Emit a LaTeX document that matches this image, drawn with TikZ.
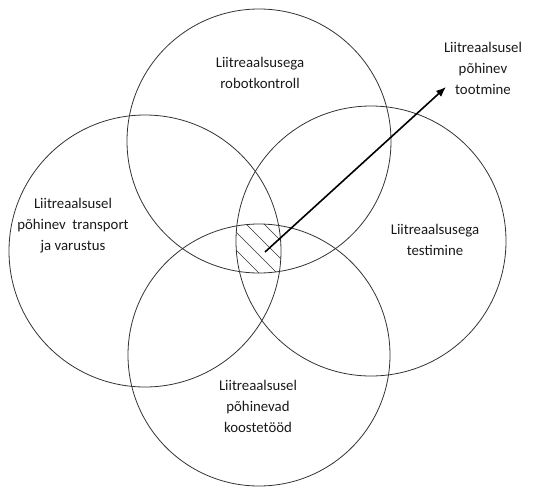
\documentclass[tikz,border=0pt]{standalone}
\usepackage{fontspec}
\setmainfont{Carlito}
\usetikzlibrary{arrows.meta}
\begin{document}
\begin{tikzpicture}[x=1pt,y=-1pt,
    ring/.style={draw=black!80, line width=0.8pt},
    hatch/.style={draw=black!80, line width=0.6pt},
    pointer/.style={-{Latex[length=10pt,width=8pt]}, line width=1.6pt},
    venntext/.style={align=center, inner sep=0pt, text=black!90,
      font=\fontsize{14.8}{21}\selectfont}]
  \useasboundingbox (0,0) rectangle (547,488);
  % Circles
  \draw[ring] (259,141) circle (132pt);
  \draw[ring] (259,355) circle (131pt);
  \draw[ring] (145,251) circle (136pt);
  \draw[ring] (371,241) circle (135pt);
  % Hatched middle
  \begin{scope}
    \clip (259,141) circle (132pt);
    \clip (259,355) circle (131pt);
    \clip (145,251) circle (136pt);
    \clip (371,241) circle (135pt);
    \foreach \c in {-32,-14,4,22,40}
      \draw[hatch] (\c+180,180) -- (\c+320,320);
  \end{scope}
  % Labels
  \node[venntext] (robot) at (260,73) {Liitreaalsusega\\robotkontroll};
  \node[venntext] (transport) at (73,226) {Liitreaalsusel\\põhinev\ \ transport\\ja varustus};
  \node[venntext] (testing) at (435,240) {Liitreaalsusega\\testimine};
  \node[venntext] (assembly) at (258,406) {Liitreaalsusel\\põhinevad\\koostetööd};
  \node[venntext] (production) at (483,68) {Liitreaalsusel\\põhinev\\tootmine};
  % Arrow
  \coordinate (hub) at (265,252);
  \coordinate (tip) at (446,87);
  \draw[pointer] (hub) -- (tip);
\end{tikzpicture}
\end{document}
